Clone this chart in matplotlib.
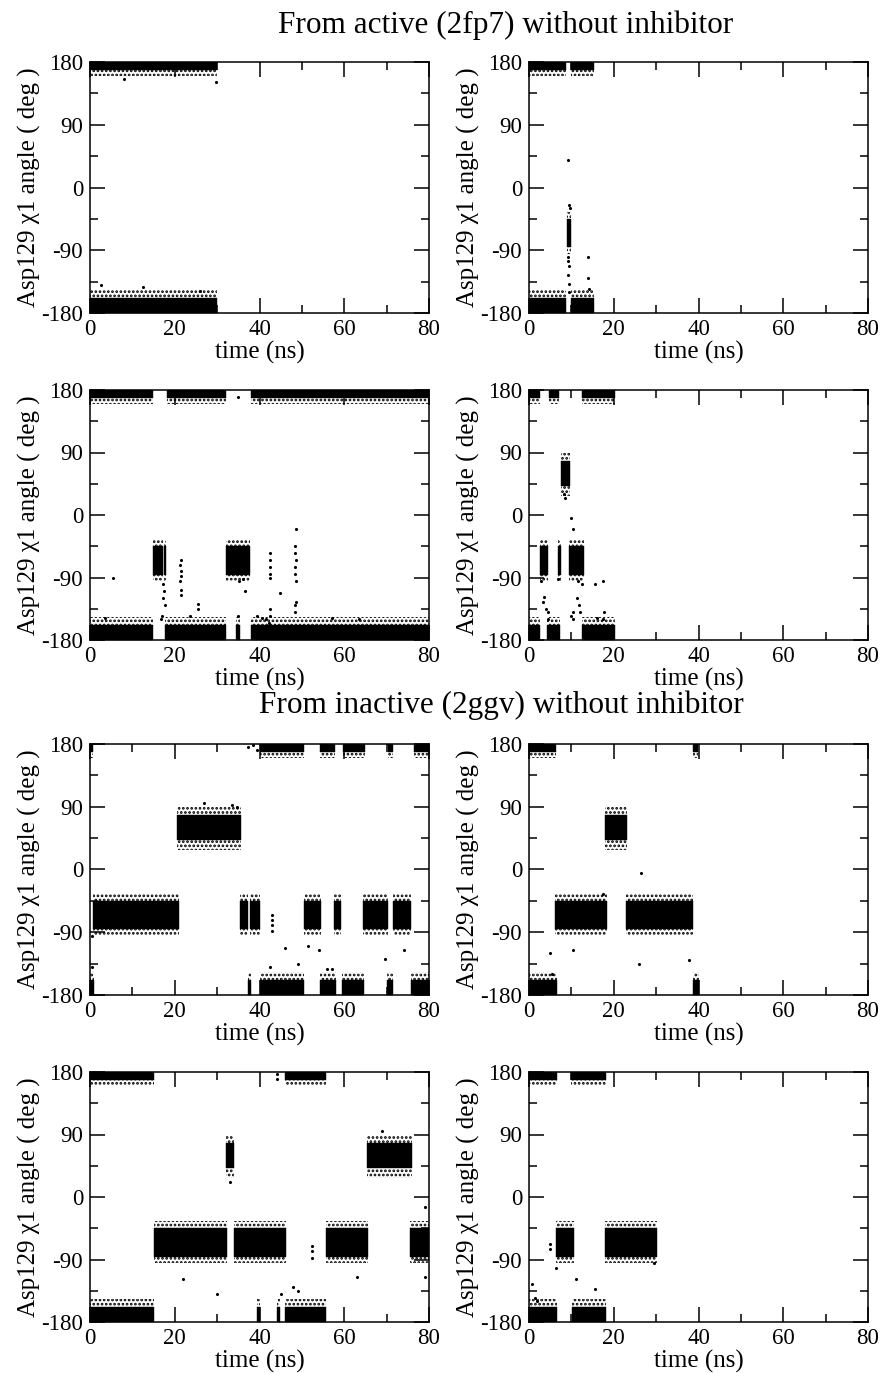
import matplotlib
matplotlib.use("Agg")
import matplotlib.pyplot as plt
from matplotlib.ticker import MultipleLocator

plt.rcParams['font.family'] = ['Liberation Serif', 'DejaVu Serif']
plt.rcParams['hatch.linewidth'] = 1.3
plt.rcParams['hatch.color'] = 'black'

# ---- state bands (deg): (core_lo, core_hi, fringe_lo, fringe_hi)
band_trans_top = (168, 180, 160, 180)
band_trans_bottom = (-180, -158, -180, -147)
band_gminus = (-86, -45, -95, -35)
band_gplus = (42, 78, 28, 90)

# ---- panel 1 (active, run 1)
p1_trans_top = [(0, 30)]
p1_trans_bottom = [(0, 30)]
p1_gminus = []
p1_gplus = []
p1_pts_t = [8, 29.8, 2.5, 12.5, 26]
p1_pts_a = [155, 152, -140, -143, -148]

# ---- panel 2 (active, run 2)
p2_trans_top = [(0, 8.7), (9.9, 15.3)]
p2_trans_bottom = [(0, 8.8), (9.9, 15.3)]
p2_gminus = [(8.9, 10.0)]
p2_gplus = []
p2_pts_t = [9.3, 9.2, 9.3, 9.4, 9.3, 9.5, 9.4, 14.0, 14.0, 14.1, 9.6, 9.5]
p2_pts_a = [40, -100, -105, -112, -125, -138, -150, -100, -130, -145, -30, -25]

# ---- panel 3 (active, run 3)
p3_trans_top = [(0, 14.9), (18.2, 32.2), (37.9, 80)]
p3_trans_bottom = [(0, 14.9), (17.6, 32.2), (34.5, 35.3), (37.9, 80)]
p3_gminus = [(14.8, 17.3), (17.4, 18.0), (32.2, 37.8)]
p3_gplus = []
p3_pts_t = [5.5, 17.3, 17.5, 17.2, 17.6, 17.0, 16.8, 21.4, 21.3, 21.4, 21.5, 21.3, 21.4,
            21.4, 25.5, 25.5, 23.5, 34.9, 34.9, 36.5, 39.5, 40.5, 41.5, 42.4, 42.5, 42.3,
            42.5, 42.4, 42.5, 42.4, 42.5, 44.8, 48.5, 48.3, 48.4, 48.5, 48.3, 48.4, 48.5,
            48.4, 48.3, 48.5, 57, 63.5, 3.5, 35.2, 36.0]
p3_pts_a = [-90, -100, -110, -120, -130, -145, -150, -65, -72, -80, -88, -95, -108,
            -115, -128, -135, -145, 170, -145, -110, -145, -148, -150, -135, -145, -155,
            -55, -65, -75, -85, -90, -112, -125, -130, -140, -20, -45, -55, -65,
            -75, -85, -95, -148, -150, -148, -95, -92]

# ---- panel 4 (active, run 4)
p4_trans_top = [(0, 2.5), (4.8, 7.1), (12.4, 20.2)]
p4_trans_bottom = [(0, 2.7), (4.2, 7.3), (12.6, 20.2)]
p4_gminus = [(2.6, 4.4), (6.9, 7.6), (9.4, 13.0)]
p4_gplus = [(7.6, 9.6)]
p4_pts_t = [2.8, 3.5, 4.0, 4.4, 4.6, 3.2, 6.8, 9.8, 10.3, 10.5, 11.3, 11.8, 12.0,
            9.8, 10.5, 11.5, 12.5, 15.5, 17.5, 17.8, 17.5, 16.0, 8.4, 8.3]
p4_pts_a = [-95, -118, -135, -140, -150, -125, -92, -145, -150, -140, -120, -130, -140,
            -5, -20, -95, -100, -100, -95, -140, -150, -148, 25, 30]

# ---- panel 5 (inactive, run 1)
p5_trans_top = [(0, 0.6), (40.2, 50.4), (54.3, 57.8), (59.8, 64.8), (70.3, 71.4), (76.4, 80)]
p5_trans_bottom = [(0, 0.9), (37.3, 38.0), (40.2, 50.5), (54.2, 58.0), (59.5, 64.6),
                   (70.2, 71.5), (75.8, 80)]
p5_gminus = [(0.8, 20.9), (35.4, 37.4), (37.8, 40.0), (50.5, 54.5), (57.6, 59.3),
             (64.5, 70.3), (71.6, 75.8)]
p5_gplus = [(20.5, 35.6)]
p5_pts_t = [43, 43, 43, 43, 46, 51.5, 54, 74, 69.5, 0.5, 49, 42.5, 56, 57, 37.2, 38.5,
            39.5, 0.4, 33.5, 34.8, 27]
p5_pts_a = [-65, -72, -80, -88, -112, -110, -115, -115, -128, -140, -135, -140, -142,
            -142, 175, 178, 172, -95, 92, 90, 95]

# ---- panel 6 (inactive, run 2)
p6_trans_top = [(0, 6.3), (38.7, 39.9)]
p6_trans_bottom = [(0, 6.5), (38.8, 40.1)]
p6_gminus = [(6.2, 18.3), (22.8, 38.8)]
p6_gplus = [(17.9, 23.2)]
p6_pts_t = [5, 10.5, 26, 37.8, 26.5, 5.5, 17.5]
p6_pts_a = [-120, -115, -135, -130, -5, -150, -35]

# ---- panel 7 (inactive, run 3)
p7_trans_top = [(0, 15.1), (46, 55.8)]
p7_trans_bottom = [(0, 15.1), (39.4, 40.1), (44.2, 44.9), (46, 55.8)]
p7_gminus = [(15, 32.3), (33.9, 46.3), (55.6, 65.6), (75.5, 80)]
p7_gplus = [(32.1, 33.9), (65.3, 76)]
p7_pts_t = [52.5, 52.5, 52.5, 30, 22, 79, 79, 44.2, 44.2, 48, 49, 45, 63, 33, 69]
p7_pts_a = [-70, -78, -88, -140, -118, -15, -115, 170, 177, -130, -135, -140, -115, 22, 95]

# ---- panel 8 (inactive, run 4)
p8_trans_top = [(0, 6.5), (9.8, 18.2)]
p8_trans_bottom = [(0, 6.5), (10.2, 18.2)]
p8_gminus = [(6.3, 10.6), (18, 30.2)]
p8_gplus = []
p8_pts_t = [5, 5, 0.8, 11, 6.4, 15.5, 1.5, 2, 29.5]
p8_pts_a = [-68, -75, -125, -118, -102, -133, -145, -150, -95]

titles = ["From active (2fp7) without inhibitor", "From inactive (2ggv) without inhibitor"]
xlabel = "time (ns)"
ylabel = "Asp129 χ1 angle ( deg )"
xticks = [0, 20, 40, 60, 80]
yticks = [-180, -90, 0, 90, 180]
ytick_labels = ["-180", "-90", "0", "90", "180"]

panels = [
    (p1_trans_top, p1_trans_bottom, p1_gminus, p1_gplus, p1_pts_t, p1_pts_a),
    (p2_trans_top, p2_trans_bottom, p2_gminus, p2_gplus, p2_pts_t, p2_pts_a),
    (p3_trans_top, p3_trans_bottom, p3_gminus, p3_gplus, p3_pts_t, p3_pts_a),
    (p4_trans_top, p4_trans_bottom, p4_gminus, p4_gplus, p4_pts_t, p4_pts_a),
    (p5_trans_top, p5_trans_bottom, p5_gminus, p5_gplus, p5_pts_t, p5_pts_a),
    (p6_trans_top, p6_trans_bottom, p6_gminus, p6_gplus, p6_pts_t, p6_pts_a),
    (p7_trans_top, p7_trans_bottom, p7_gminus, p7_gplus, p7_pts_t, p7_pts_a),
    (p8_trans_top, p8_trans_bottom, p8_gminus, p8_gplus, p8_pts_t, p8_pts_a),
]

W, H = 882, 1373
fig = plt.figure(figsize=(W / 100, H / 100), dpi=100)

col_x = [90, 529]
row_y = [(62, 313), (390, 640), (744, 995), (1072, 1322)]
ax_w = 339


def draw_band(ax, segs, band):
    clo, chi, flo, fhi = band
    for t0, t1 in segs:
        ax.fill_between([t0, t1], [flo, flo], [fhi, fhi], facecolor='none',
                        edgecolor='black', hatch='....', linewidth=0)
        ax.fill_between([t0, t1], [clo, clo], [chi, chi], facecolor='black',
                        edgecolor='black', linewidth=0.3)


for i, (tt, tb, gm, gp, pt, pa) in enumerate(panels):
    r, c = divmod(i, 2)
    y0, y1 = row_y[r]
    ax = fig.add_axes([col_x[c] / W, 1 - y1 / H, ax_w / W, (y1 - y0) / H])
    draw_band(ax, tt, band_trans_top)
    draw_band(ax, tb, band_trans_bottom)
    draw_band(ax, gm, band_gminus)
    draw_band(ax, gp, band_gplus)
    ax.scatter(pt, pa, s=5, c='black', marker='o', linewidths=0)
    ax.set_xlim(0, 80)
    ax.set_ylim(-180, 180)
    ax.set_xticks(xticks)
    ax.set_yticks(yticks)
    ax.set_yticklabels(ytick_labels)
    ax.xaxis.set_minor_locator(MultipleLocator(10))
    ax.yaxis.set_minor_locator(MultipleLocator(45))
    ax.tick_params(which='both', direction='in', top=True, right=True,
                   labelsize=16.5, width=1.1)
    ax.tick_params(axis='y', pad=5)
    ax.tick_params(axis='x', pad=4)
    ax.tick_params(which='major', length=11)
    ax.tick_params(which='minor', length=6)
    for s in ax.spines.values():
        s.set_linewidth(1.1)
    ax.set_xlabel(xlabel, fontsize=18, labelpad=1)
    ax.set_ylabel(ylabel, fontsize=18, labelpad=0)

fig.text(506 / W, 1 - 25 / H, titles[0], ha='center', va='center', fontsize=22.5)
fig.text(501 / W, 1 - 705 / H, titles[1], ha='center', va='center', fontsize=22.5)

fig.savefig("out.png", dpi=100)
